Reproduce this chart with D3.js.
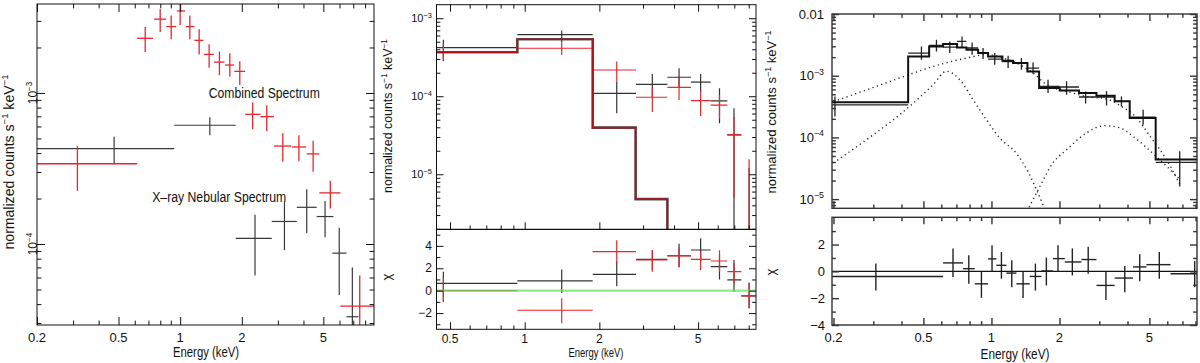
<!DOCTYPE html>
<html><head><meta charset="utf-8">
<script src="https://cdn.jsdelivr.net/npm/d3@7"></script>
<style>
body{margin:0;background:#fff;}
svg{display:block;font-family:"Liberation Sans",Arial,sans-serif;}
</style></head><body>
<svg id="chart" width="1200" height="363"></svg>
<script>
// DATA  rows: [E, Elo, Ehi, value, valueHi, valueLo]
const p1Combined = [
  [0.315,0.2,0.617,3.4e-4,4.45e-4,2.25e-4],[0.675,0.617,0.738,2.30e-3,2.73e-3,1.87e-3],
  [0.799,0.746,0.855,3.08e-3,3.6e-3,2.53e-3],[0.904,0.855,0.956,2.75e-3,3.25e-3,2.27e-3],
  [1.0,0.963,1.058,3.49e-3,4.1e-3,2.82e-3],[1.115,1.066,1.174,2.75e-3,3.25e-3,2.27e-3],
  [1.238,1.174,1.299,2.23e-3,2.64e-3,1.80e-3],[1.385,1.309,1.46,1.80e-3,2.10e-3,1.47e-3],
  [1.555,1.465,1.645,1.60e-3,1.88e-3,1.31e-3],[1.747,1.657,1.833,1.53e-3,1.83e-3,1.28e-3],
  [1.955,1.84,2.075,1.39e-3,1.62e-3,1.13e-3],[2.26,2.075,2.466,7.22e-4,8.63e-4,5.75e-4],
  [2.647,2.466,2.873,6.97e-4,8.3e-4,5.6e-4],[3.17,2.873,3.49,4.45e-4,5.41e-4,3.51e-4],
  [3.8,3.52,4.12,4.39e-4,5.25e-4,3.53e-4],[4.46,4.15,4.78,3.95e-4,4.83e-4,3.01e-4],
  [5.41,4.78,6.06,2.18e-4,2.62e-4,1.72e-4],[7.53,6.05,9.5,3.88e-5,6.2e-5,1.5e-5]
];
const p1Nebular = [
  [0.476,0.2,0.935,4.28e-4,5.13e-4,3.37e-4],[1.396,0.935,1.869,6.11e-4,6.9e-4,5.25e-4],
  [2.32,1.869,2.80,1.09e-4,1.56e-4,6.2e-5],[3.23,2.80,3.71,1.41e-4,1.91e-4,9.1e-5],
  [4.15,3.71,4.64,1.75e-4,2.30e-4,1.18e-4],[5.10,4.64,5.60,1.52e-4,1.93e-4,1.11e-4],
  [5.98,5.53,6.49,8.7e-5,1.28e-4,4.6e-5],[6.93,6.49,7.42,3.30e-5,7.0e-5,1.0e-5]
];
const p1Notes = ["Combined Spectrum", "X\u2013ray Nebular Spectrum"];

const p2Black = [
  [0.47,0.2,0.934,4.2e-4,5.3e-4,2.8e-4],[1.41,0.934,1.88,6.16e-4,6.94e-4,4.9e-4],
  [2.35,1.88,2.81,1.09e-4,1.54e-4,6.06e-5],[3.27,2.81,3.76,1.42e-4,1.93e-4,9.5e-5],
  [4.19,3.76,4.68,1.75e-4,2.28e-4,1.3e-4],[5.12,4.68,5.62,1.52e-4,1.93e-4,1.13e-4],
  [6.1,5.62,6.56,8.7e-5,1.27e-4,4.5e-5],[6.98,6.56,7.47,3.2e-5,7.0e-5,1e-7],
  [8.03,7.47,9.0,1e-7,1.2e-5,1e-8]
];
const p2Red = [
  [0.47,0.2,0.934,3.7e-4,4.7e-4,2.9e-4],[1.41,0.934,1.88,4.12e-4,4.87e-4,3.38e-4],
  [2.35,1.88,2.81,2.17e-4,2.78e-4,1.54e-4],[3.27,2.81,3.76,9.7e-5,1.27e-4,6.3e-5],
  [4.19,3.76,4.68,1.30e-4,1.70e-4,8.97e-5],[5.12,4.68,5.62,8.8e-5,1.18e-4,5.6e-5],
  [6.1,5.62,6.56,7.7e-5,1.04e-4,5.2e-5],[6.98,6.56,7.47,3.2e-5,5.4e-5,5e-6],
  [8.03,7.47,9.0,1e-7,1.56e-5,1e-8]
];
// model bins: [Elo, Ehi, value]
const p2Model = [[0.2,0.934,3.66e-4],[0.934,1.88,5.38e-4],[1.88,2.80,3.96e-5],[2.80,3.76,4.8e-6],[3.76,10,1e-7]];
const p2ChiBlack = [
  [0.47,0.2,0.934,0.66,1.7,-1.0],[1.41,0.934,1.88,0.87,1.9,-0.2],[2.35,1.88,2.81,1.46,2.6,0.4],
  [3.27,2.81,3.76,2.8,3.6,1.85],[4.19,3.76,4.68,3.12,4.2,2.1],[5.12,4.68,5.62,3.63,4.68,2.6],
  [6.1,5.62,6.56,2.14,3.3,1.0],[6.98,6.56,7.47,0.96,2.74,-0.1],[8.03,7.47,9.0,-0.47,0.7,-1.57]
];
const p2ChiRed = [
  [0.47,0.2,0.934,0.0,1.2,-1.0],[1.41,0.934,1.88,-1.75,-0.68,-2.9],[2.35,1.88,2.81,3.48,4.5,2.45],
  [3.27,2.81,3.76,2.74,3.6,1.7],[4.19,3.76,4.68,3.1,3.9,2.1],[5.12,4.68,5.62,2.8,3.5,1.85],
  [6.1,5.62,6.56,2.65,3.6,1.7],[6.98,6.56,7.47,1.7,2.45,0.66],[8.03,7.47,9.0,-0.47,0.7,-1.57]
];

const p3Data = [
  [0.203,0.1,0.428,3.36e-4,4.62e-4,2.19e-4],[0.49,0.428,0.53,2.33e-3,2.98e-3,1.81e-3],
  [0.571,0.53,0.611,3.09e-3,3.83e-3,2.47e-3],[0.654,0.611,0.704,2.91e-3,3.59e-3,2.33e-3],
  [0.741,0.704,0.775,3.59e-3,4.32e-3,2.81e-3],[0.821,0.775,0.873,2.81e-3,3.46e-3,2.19e-3],
  [0.918,0.873,0.966,2.33e-3,2.81e-3,1.86e-3],[1.034,0.966,1.118,1.86e-3,2.33e-3,1.51e-3],
  [1.185,1.118,1.246,1.70e-3,2.11e-3,1.33e-3],[1.357,1.246,1.443,1.60e-3,1.93e-3,1.25e-3],
  [1.528,1.443,1.625,1.33e-3,1.64e-3,1.08e-3],[1.78,1.625,2.005,6.71e-4,8.6e-4,5.25e-4],
  [2.15,2.005,2.441,6.56e-4,8.1e-4,4.93e-4],[2.61,2.441,2.915,4.52e-4,5.57e-4,3.53e-4],
  [3.23,2.915,3.51,4.52e-4,5.6e-4,3.3e-4],[3.76,3.51,4.09,3.84e-4,4.62e-4,3.18e-4],
  [4.69,4.09,5.33,2.14e-4,2.82e-4,1.61e-4],[6.81,5.33,9.0,3.95e-5,5.96e-5,1.6e-5]
];
const p3Model = [
  [0.1,0.428,3.70e-4],[0.428,0.530,2.05e-3],[0.530,0.611,2.98e-3],[0.611,0.704,3.26e-3],
  [0.704,0.775,2.87e-3],[0.775,0.873,2.64e-3],[0.873,0.966,2.33e-3],[0.966,1.118,2.05e-3],
  [1.118,1.246,1.75e-3],[1.246,1.443,1.60e-3],[1.443,1.625,1.17e-3],[1.625,2.005,6.32e-4],
  [2.005,2.441,5.78e-4],[2.441,2.915,5.25e-4],[2.915,3.51,4.75e-4],[3.51,4.09,3.84e-4],
  [4.09,5.33,2.07e-4],[5.33,9.0,4.38e-5]
];
// model components: [E, value]
const p3Continuum = [[0.2,3.8e-4],[0.28,5.9e-4],[0.393,9.2e-4],[0.552,1.41e-3],[0.775,1.93e-3],[0.95,2.19e-3],
  [1.165,1.86e-3],[1.246,1.7e-3],[1.53,1.1e-3],[1.78,6.9e-4],[2.15,5.6e-4],[2.63,4.6e-4],[3.23,4.2e-4],
  [3.76,3.18e-4],[4.25,2.34e-4],[5.16,9.2e-5],[5.95,4.4e-5],[6.81,1.73e-5]];
const p3SoftLine = [[0.2,3.86e-5],[0.28,9.2e-5],[0.393,2.34e-4],[0.552,7.15e-4],[0.632,1.18e-3],[0.724,8.6e-4],
  [0.829,4.1e-4],[0.95,1.94e-4],[1.088,9.8e-5],[1.29,5.5e-5],[1.45,2.8e-5],[1.6,1.3e-5],[1.75,6e-6]];
const p3HardLine = [[1.35,4e-6],[1.637,1.6e-5],[1.87,3.86e-5],[2.15,6.3e-5],[2.63,1.18e-4],[3.17,1.55e-4],
  [3.7,1.43e-4],[4.23,1.04e-4],[5.33,5e-5],[6.81,2.1e-5]];
const p3Chi = [
  [0.308,0.196,0.611,-0.38,0.58,-1.43],[0.676,0.611,0.749,0.63,1.7,-0.43],[0.794,0.749,0.844,0.2,1.2,-0.93],
  [0.903,0.844,0.966,-0.93,0.03,-1.98],[1.006,0.966,1.052,0.93,1.95,-0.05],[1.107,1.052,1.165,0.45,1.45,-0.55],
  [1.23,1.165,1.29,-0.13,0.83,-1.18],[1.38,1.29,1.477,-0.93,-0.05,-1.98],[1.565,1.477,1.664,-0.38,0.58,-1.43],
  [1.75,1.664,1.87,0.03,1.03,-1.05],[1.97,1.87,2.11,0.95,1.95,-0.05],[2.28,2.11,2.5,0.7,1.7,-0.3],
  [2.68,2.5,2.915,0.88,1.83,-0.18],[3.21,2.915,3.51,-1.05,-0.05,-2.13],[3.89,3.51,4.23,-0.5,0.4,-1.55],
  [4.53,4.23,4.85,0.33,1.28,-0.73],[5.53,4.85,6.2,0.5,1.45,-0.55],[7.93,6.2,9.0,-0.18,0.78,-1.18]
];

// TICK LABELS
const p1XTicks = [0.2, 0.5, 1, 2, 5];
const p1YTicks = [[1e-3, "10", "\u22123"], [1e-4, "10", "\u22124"]];
const p2XTicks = [0.5, 1, 2, 5];
const p2YTicks = [[1e-3, "10", "\u22123"], [1e-4, "10", "\u22124"], [1e-5, "10", "\u22125"]];
const p2ChiTicks = [-2, 0, 2, 4];
const p3XTicks = [0.2, 0.5, 1, 2, 5];
const p3YTicks = [[1e-2, "0.01", ""], [1e-3, "10", "\u22123"], [1e-4, "10", "\u22124"], [1e-5, "10", "\u22125"]];
const p3ChiTicks = [-4, -2, 0, 2];

const svg = d3.select("#chart");
let clipN = 0;
function clip(x0, y0, x1, y1) {
  const id = "clip" + (clipN++);
  svg.append("clipPath").attr("id", id).append("rect")
    .attr("x", x0).attr("y", y0).attr("width", x1 - x0).attr("height", y1 - y0);
  return svg.append("g").attr("clip-path", "url(#" + id + ")");
}
const near = (a, b) => Math.abs(a - b) / Math.abs(b || 1) < 1e-6;

// ticks pointing into the plot
function xTicks(x, yPos, majors, len, up, st) {
  const minors = x.ticks().filter(v => !majors.some(m => near(v, m)));
  [[majors, len], [minors, len * 0.55]].forEach(([vals, l]) => {
    const gen = (up ? d3.axisBottom(x) : d3.axisTop(x)).tickValues(vals).tickSize(-l).tickFormat("");
    const g = svg.append("g").attr("transform", `translate(0,${yPos})`).call(gen);
    g.select(".domain").remove();
    g.selectAll(".tick line").attr("stroke", st.c).attr("stroke-width", st.w);
  });
}
function yTicks(y, x0, x1, majors, minors, len, st) {
  [[majors, len], [minors, len * 0.55]].forEach(([vals, l]) => {
    [[d3.axisLeft(y), x0], [d3.axisRight(y), x1]].forEach(([gen, xp]) => {
      const g = svg.append("g").attr("transform", `translate(${xp},0)`)
        .call(gen.tickValues(vals).tickSize(-l).tickFormat(""));
      g.select(".domain").remove();
      g.selectAll(".tick line").attr("stroke", st.c).attr("stroke-width", st.w);
    });
  });
}
function logMinors(y, majors) { return y.ticks().filter(v => !majors.some(m => near(v, m))); }

function frame(x0, y0, x1, y1, st) {
  svg.append("rect").attr("x", x0).attr("y", y0).attr("width", x1 - x0).attr("height", y1 - y0)
    .attr("fill", "none").attr("stroke", st.c).attr("stroke-width", st.w);
}

function crosses(g, rows, x, y, color, w) {
  g.append("g").selectAll("line").data(rows).join("line")
    .attr("x1", d => x(d[1])).attr("x2", d => x(d[2]))
    .attr("y1", d => y(d[3])).attr("y2", d => y(d[3]))
    .attr("stroke", color).attr("stroke-width", w);
  g.append("g").selectAll("line").data(rows).join("line")
    .attr("x1", d => x(d[0])).attr("x2", d => x(d[0]))
    .attr("y1", d => y(d[4])).attr("y2", d => y(d[5]))
    .attr("stroke", color).attr("stroke-width", w);
}
function steps(g, bins, x, y, color, w) {
  const pts = bins.map(b => [b[0], b[2]]).concat([[bins[bins.length - 1][1], bins[bins.length - 1][2]]]);
  g.append("path").datum(pts)
    .attr("d", d3.line().x(d => x(d[0])).y(d => y(d[1])).curve(d3.curveStepAfter))
    .attr("fill", "none").attr("stroke", color).attr("stroke-width", w);
}
function supText(sel, base, exp, size) {
  sel.append("tspan").text(base);
  if (exp) sel.append("tspan").attr("dy", -size * 0.42).attr("font-size", size * 0.68).text(exp);
}
function yTitle(xp, yc, size, len) {
  const t = svg.append("text").attr("transform", `translate(${xp},${yc}) rotate(-90)`)
    .attr("text-anchor", "middle").attr("font-size", size).attr("fill", "#111");
  t.append("tspan").text("normalized counts s");
  t.append("tspan").attr("dy", -size * 0.42).attr("font-size", size * 0.68).text("\u22121");
  t.append("tspan").attr("dy", size * 0.42).text(" keV");
  t.append("tspan").attr("dy", -size * 0.42).attr("font-size", size * 0.68).text("\u22121");
  if (len) t.attr("textLength", len).attr("lengthAdjust", "spacingAndGlyphs");
}
function chiTitle(xp, yc, size) {
  svg.append("text").attr("transform", `translate(${xp},${yc}) rotate(-90)`)
    .attr("text-anchor", "middle").attr("font-size", size).attr("fill", "#111").text("\u03c7");
}
function xLabels(x, vals, yb, size) {
  svg.append("g").selectAll("text").data(vals).join("text")
    .attr("x", d => x(d)).attr("y", yb).attr("text-anchor", "middle")
    .attr("font-size", size).attr("fill", "#111").text(d => d);
}
function energyTitle(cx, yb, size, len) {
  svg.append("text").attr("x", cx).attr("y", yb).attr("text-anchor", "middle")
    .attr("font-size", size).attr("fill", "#111")
    .attr("textLength", len).attr("lengthAdjust", "spacingAndGlyphs").text("Energy (keV)");
}

// ---------------- PANEL 1
const x1 = d3.scaleLog().domain([0.2, 8.84]).range([37, 374]);
const y1 = d3.scaleLog().domain([2.91e-5, 3.88e-3]).range([325, 4]);
const s1 = {c: "#111", w: 1};
{
  const g = clip(37, 4, 374, 325);
  crosses(g, p1Nebular, x1, y1, "#3a3a3a", 1.2);
  crosses(g, p1Combined, x1, y1, "#e8262e", 1.3);
  xTicks(x1, 325, p1XTicks, 8, true, s1);
  xTicks(x1, 4, p1XTicks, 8, false, s1);
  const yMaj = p1YTicks.map(d => d[0]);
  yTicks(y1, 37, 374, yMaj, logMinors(y1, yMaj), 8, s1);
  frame(37, 4, 374, 325, s1);
  xLabels(x1, p1XTicks, 342, 13);
  p1YTicks.forEach(([v, b, e]) => {
    const t = svg.append("text").attr("transform", `translate(37,${y1(v)}) rotate(-90)`)
      .attr("text-anchor", "middle").attr("font-size", 12).attr("fill", "#111");
    supText(t, b, e, 12);
  });
  energyTitle(206, 357, 14, 66);
  yTitle(14, 162, 14, 175);
  svg.append("text").attr("x", x1(1.38)).attr("y", y1(9.3e-4)).attr("font-size", 14).attr("fill", "#111")
    .attr("textLength", 111).attr("lengthAdjust", "spacingAndGlyphs").text(p1Notes[0]);
  svg.append("text").attr("x", x1(0.73)).attr("y", y1(1.9e-4)).attr("font-size", 14).attr("fill", "#111")
    .attr("textLength", 134).attr("lengthAdjust", "spacingAndGlyphs").text(p1Notes[1]);
}

// ---------------- PANEL 2
const x2 = d3.scaleLog().domain([0.441, 8.56]).range([436.5, 756]);
const y2 = d3.scaleLog().domain([1.97e-6, 1.49e-3]).range([229.3, 4.7]);
const c2 = d3.scaleLinear().domain([-3.45, 5.48]).range([329.3, 229.3]);
const s2 = {c: "#111", w: 1};
{
  const g = clip(436.5, 4.7, 756, 229.3);
  crosses(g, p2Black, x2, y2, "#333", 1.2);
  crosses(g, p2Red, x2, y2, "#e8262e", 1.2);
  steps(g, p2Model, x2, y2, "#555", 2.6);
  steps(g, p2Model, x2, y2, "#b0121a", 1.6);
  const gl = clip(436.5, 229.3, 756, 329.3);
  crosses(gl, p2ChiBlack, x2, c2, "#333", 1.2);
  crosses(gl, p2ChiRed, x2, c2, "#e8262e", 1.2);
  gl.append("line").attr("x1", x2.range()[0]).attr("x2", x2.range()[1])
    .attr("y1", c2(0)).attr("y2", c2(0)).attr("stroke", "#5fe85f").attr("stroke-width", 2.4)
    .attr("stroke-opacity", 0.75);

  xTicks(x2, 4.7, p2XTicks, 7, false, s2);
  xTicks(x2, 229.3, p2XTicks, 7, true, s2);
  xTicks(x2, 329.3, p2XTicks, 7, true, s2);
  const yMaj = p2YTicks.map(d => d[0]);
  yTicks(y2, 436.5, 756, yMaj, logMinors(y2, yMaj), 7, s2);
  yTicks(c2, 436.5, 756, p2ChiTicks, d3.range(-3, 6).filter(v => v % 2), 7, s2);
  frame(436.5, 4.7, 756, 329.3, s2);
  svg.append("line").attr("x1", 436.5).attr("x2", 756).attr("y1", 229.3).attr("y2", 229.3)
    .attr("stroke", "#111").attr("stroke-width", 1.2);
  xLabels(x2, p2XTicks, 343, 12);
  p2YTicks.forEach(([v, b, e]) => {
    const t = svg.append("text").attr("x", 432).attr("y", y2(v) + 4).attr("text-anchor", "end")
      .attr("font-size", 11).attr("fill", "#111");
    supText(t, b, e, 11);
  });
  svg.append("g").selectAll("text").data(p2ChiTicks).join("text")
    .attr("x", 432).attr("y", d => c2(d) + 4).attr("text-anchor", "end")
    .attr("font-size", 12).attr("fill", "#111").text(d => d < 0 ? "\u2212" + (-d) : d);
  energyTitle(596, 357, 13, 55);
  yTitle(392, 116, 12.5, 154);
  chiTitle(391, 277, 13);
}

// ---------------- PANEL 3
const x3 = d3.scaleLog().domain([0.197, 8.12]).range([832, 1197]);
const y3 = d3.scaleLog().domain([7.1e-6, 1e-2]).range([208.3, 14]);
const c3 = d3.scaleLinear().domain([-4, 4.03]).range([325, 217.3]);
const s3 = {c: "#333", w: 1.4};
{
  const g = clip(832, 14, 1197, 208.3);
  const comp = d3.line().x(d => x3(d[0])).y(d => y3(d[1])).curve(d3.curveMonotoneX);
  [p3Continuum, p3SoftLine, p3HardLine].forEach(c => {
    g.append("path").datum(c).attr("d", comp).attr("fill", "none")
      .attr("stroke", "#222").attr("stroke-width", 1.4).attr("stroke-dasharray", "1.2,3.4");
  });
  crosses(g, p3Data, x3, y3, "#222", 1.3);
  steps(g, p3Model, x3, y3, "#111", 2);
  const gl = clip(832, 217.3, 1197, 325);
  gl.append("line").attr("x1", 832).attr("x2", 1197).attr("y1", c3(0)).attr("y2", c3(0))
    .attr("stroke", "#111").attr("stroke-width", 1.3);
  crosses(gl, p3Chi, x3, c3, "#222", 1.4);

  xTicks(x3, 14, p3XTicks, 7, false, s3);
  xTicks(x3, 208.3, p3XTicks, 7, true, s3);
  xTicks(x3, 217.3, p3XTicks, 7, false, s3);
  xTicks(x3, 325, p3XTicks, 7, true, s3);
  const yMaj = p3YTicks.map(d => d[0]);
  yTicks(y3, 832, 1197, yMaj, logMinors(y3, yMaj), 7, s3);
  yTicks(c3, 832, 1197, p3ChiTicks, d3.range(-3, 5).filter(v => v % 2), 7, s3);
  frame(832, 14, 1197, 208.3, s3);
  frame(832, 217.3, 1197, 325, s3);
  xLabels(x3, p3XTicks, 342, 13);
  p3YTicks.forEach(([v, b, e]) => {
    const t = svg.append("text").attr("x", 824).attr("y", y3(v) + 4.5).attr("text-anchor", "end")
      .attr("font-size", 13).attr("fill", "#111");
    supText(t, b, e, 13);
  });
  svg.append("g").selectAll("text").data(p3ChiTicks).join("text")
    .attr("x", 825).attr("y", d => c3(d) + 4.5).attr("text-anchor", "end")
    .attr("font-size", 13).attr("fill", "#111").text(d => d < 0 ? "\u2212" + (-d) : d);
  energyTitle(1015, 359, 14, 69);
  yTitle(776, 112, 13, 163);
  chiTitle(775, 272, 13);
}
</script></body></html>
